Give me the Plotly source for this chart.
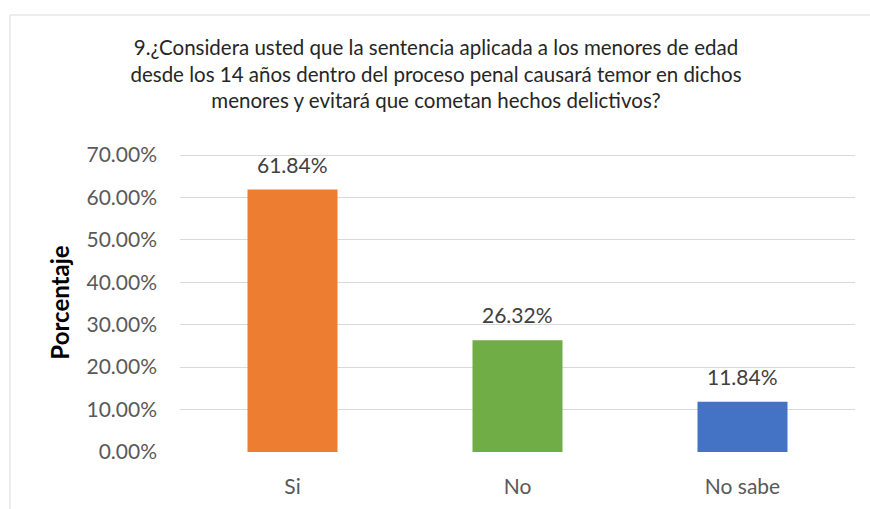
import plotly.graph_objects as go

categories = ["Si", "No", "No sabe"]
values = [0.6184, 0.2632, 0.1184]
labels = ["61.84%", "26.32%", "11.84%"]
colors = ["#ED7D31", "#70AD47", "#4472C4"]
tick_vals = [0, 0.1, 0.2, 0.3, 0.4, 0.5, 0.6, 0.7]
tick_text = ["0.00%", "10.00%", "20.00%", "30.00%", "40.00%", "50.00%", "60.00%", "70.00%"]
title_text = ("9.¿Considera usted que la sentencia aplicada a los menores de edad<br>"
              "desde los 14 años dentro del proceso penal causará temor en dichos<br>"
              "menores y evitará que cometan hechos delictivos?")

FONT = "Lato"

fig = go.Figure()
fig.add_trace(go.Bar(
    x=categories, y=values, marker_color=colors, width=0.4,
    marker_line_width=0, hoverinfo="skip",
))

for c, v, t in zip(categories, values, labels):
    fig.add_annotation(x=c, y=v, text=t, showarrow=False, yanchor="bottom",
                       yshift=11, font=dict(family=FONT, size=21, color="#404040"))

L, R, T, B = 180, 15, 153, 57
W, H = 870, 509
pw = W - L - R
ph = H - T - B
# frame lines (left and top)
fig.add_shape(type="line", xref="paper", yref="paper",
              x0=(10 - L) / pw, x1=(10 - L) / pw, y0=(H - B - 509) / ph, y1=(H - B - 15) / ph,
              line=dict(color="#D9D9D9", width=1))
fig.add_shape(type="line", xref="paper", yref="paper",
              x0=(10 - L) / pw, x1=(870 - L) / pw, y0=(H - B - 15) / ph, y1=(H - B - 15) / ph,
              line=dict(color="#D9D9D9", width=1))

fig.update_layout(
    width=W, height=H,
    margin=dict(l=L, r=R, t=T, b=B),
    paper_bgcolor="white", plot_bgcolor="white",
    showlegend=False,
    title=dict(text=title_text, x=436 / W, xref="container", xanchor="center",
               y=1 - 55 / H, yanchor="middle", yref="container",
               font=dict(family=FONT, size=20.5, color="#262626")),
    font=dict(family=FONT),
)
fig.update_xaxes(showgrid=False, showline=False, zeroline=False, ticks="",
                 tickfont=dict(family=FONT, size=21, color="#595959"), ticklabelstandoff=20)
fig.update_yaxes(range=[0, 0.7 + 0.7 / 297 * 2], tickvals=tick_vals, ticktext=tick_text,
                 showgrid=True, gridcolor="#D9D9D9", gridwidth=1, zeroline=False,
                 showline=False, ticks="", ticklabelstandoff=22,
                 tickfont=dict(family=FONT, size=21, color="#595959"),
                 title=dict(text="<b>Porcentaje</b>", standoff=10,
                            font=dict(family=FONT, size=24, color="#000000")))

fig.write_html("out.html", post_script="document.body.style.margin='0';",
               config={"displayModeBar": False})
